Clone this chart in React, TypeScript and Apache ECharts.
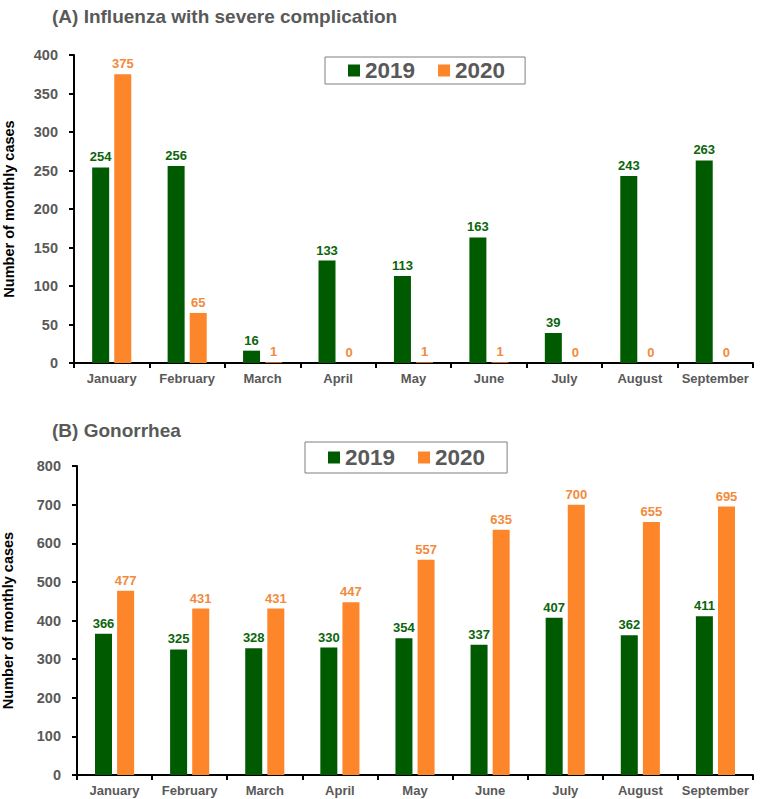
import React, { useEffect, useRef } from "react";
import * as echarts from "echarts";

const months = ["January", "February", "March", "April", "May", "June", "July", "August", "September"];
const fluSeries2019 = [254, 256, 16, 133, 113, 163, 39, 243, 263];
const fluSeries2020 = [375, 65, 1, 0, 1, 1, 0, 0, 0];
const gonSeries2019 = [366, 325, 328, 330, 354, 337, 407, 362, 411];
const gonSeries2020 = [477, 431, 431, 447, 557, 635, 700, 655, 695];
const titles = ["(A) Influenza with severe complication", "(B) Gonorrhea"];
const yName = "Number of monthly cases";

const GREEN = "#005A00";
const ORANGE = "#FD852A";
const GREEN_LABEL = "#0B650B";
const ORANGE_LABEL = "#F28A3C";
const GRAY = "#595959";
const FONT = "Liberation Sans, Arial, sans-serif";

export default function App() {
  const ref = useRef<HTMLDivElement>(null);
  useEffect(() => {
    document.body.style.margin = "0";
    const chart = echarts.init(ref.current!, null, { renderer: "svg" });
    const xAxisBase = (gridIndex: number) => ({
      type: "category",
      gridIndex,
      data: months,
      axisLine: { lineStyle: { color: "#000", width: 2 } },
      axisTick: { show: true, length: 5, lineStyle: { color: "#000", width: 2 } },
      axisLabel: { color: GRAY, fontWeight: "bold", fontSize: 13, fontFamily: FONT, margin: 9, interval: 0 },
    });
    const yAxisBase = (gridIndex: number, max: number, interval: number, gap: number) => ({
      type: "value",
      gridIndex,
      min: 0,
      max,
      interval,
      name: yName,
      nameLocation: "middle",
      nameGap: gap,
      nameMoveOverlap: false,
      nameTextStyle: { color: "#000", fontWeight: "bold", fontSize: 14.5, fontFamily: FONT },
      axisLine: { show: true, lineStyle: { color: "#000", width: 2 } },
      axisTick: { show: true, length: 5, lineStyle: { color: "#000", width: 2 } },
      splitLine: { show: false },
      axisLabel: { color: GRAY, fontWeight: "bold", fontSize: 14.5, fontFamily: FONT, margin: 16 },
    });
    const barSeries = (name: string, data: number[], idx: number, color: string, labelColor: string) => ({
      name,
      type: "bar",
      xAxisIndex: idx,
      yAxisIndex: idx,
      data,
      barWidth: 17,
      barGap: "30%",
      itemStyle: { color },
      label: {
        show: true,
        position: "top",
        distance: 4,
        color: labelColor,
        fontWeight: "bold",
        fontSize: 13,
        fontFamily: FONT,
      },
    });
    const legendBase = (left: number, top: number, padV: number, padR: number) => ({
      left,
      top,
      selectedMode: false,
      orient: "horizontal",
      itemWidth: 12,
      itemHeight: 12,
      itemGap: 23,
      borderColor: "#7f7f7f",
      borderWidth: 1,
      padding: [padV, padR, padV, 23],
      icon: "rect",
      textStyle: { color: GRAY, fontWeight: "bold", fontSize: 22.5, fontFamily: FONT },
    });
    chart.setOption({
      animation: false,
      backgroundColor: "#fff",
      title: [
        { text: titles[0], left: 47, top: 2, textStyle: { color: GRAY, fontWeight: "bold", fontSize: 19, fontFamily: FONT } },
        { text: titles[1], left: 47, top: 416, textStyle: { color: GRAY, fontWeight: "bold", fontSize: 19, fontFamily: FONT } },
      ],
      legend: [
        { ...legendBase(325, 57, 2, 20), data: [{ name: "2019" }, { name: "2020" }] },
        { ...legendBase(305, 442, 4, 22), data: [{ name: "2019b" }, { name: "2020b" }], formatter: (n: string) => n.replace("b", "") },
      ],
      grid: [
        { left: 74, right: 9, top: 55, height: 308, outerBoundsMode: "none", containLabel: false },
        { left: 77, right: 9, top: 466, height: 309, outerBoundsMode: "none", containLabel: false },
      ],
      xAxis: [xAxisBase(0), xAxisBase(1)],
      yAxis: [yAxisBase(0, 400, 50, 58), yAxisBase(1, 800, 100, 62)],
      series: [
        barSeries("2019", fluSeries2019, 0, GREEN, GREEN_LABEL),
        barSeries("2020", fluSeries2020, 0, ORANGE, ORANGE_LABEL),
        barSeries("2019b", gonSeries2019, 1, GREEN, GREEN_LABEL),
        barSeries("2020b", gonSeries2020, 1, ORANGE, ORANGE_LABEL),
      ],
    });
    return () => chart.dispose();
  }, []);
  return <div ref={ref} style={{ width: 762, height: 799 }} />;
}
